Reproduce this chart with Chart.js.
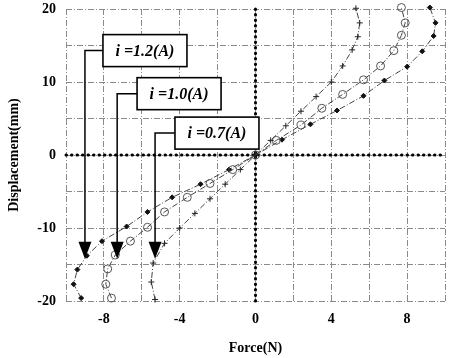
<!DOCTYPE html>
<html>
<head>
<meta charset="utf-8">
<script src="https://cdn.jsdelivr.net/npm/chart.js@4.4.1/dist/chart.umd.min.js"></script>
<style>
  html, body { margin: 0; padding: 0; background: #fff; }
  #wrap { width: 455px; height: 358px; }
</style>
</head>
<body>
<div id="wrap"><canvas id="chart" width="455" height="358"></canvas></div>
<script>
// Force (N) / displacement (mm), one pair of arrays per current
const forceI07 = [-5.3, -5.5, -5.4, -4.8, -4.0, -3.2, -2.4, -1.6, -0.8, 0, 0.8, 1.6, 2.4, 3.2, 4.0, 4.6, 5.1, 5.4, 5.5, 5.3];
const dispI07  = [-19.8, -17.4, -14.8, -12.1, -10.0, -8.0, -6.0, -4.0, -2.0, 0, 2.0, 4.0, 6.0, 8.0, 10.0, 12.2, 14.4, 16.2, 18.1, 20.1];

const forceI10 = [-7.6, -7.9, -7.8, -7.4, -6.6, -5.7, -4.8, -3.6, -2.4, -1.2, 0, 1.1, 2.4, 3.5, 4.6, 5.7, 6.6, 7.3, 7.7, 7.9, 7.7];
const dispI10  = [-19.6, -17.7, -15.6, -13.7, -11.8, -9.9, -7.8, -5.8, -3.9, -2.0, 0, 2.0, 4.1, 6.4, 8.3, 10.3, 12.2, 14.3, 16.4, 18.1, 20.2];

const forceI12 = [-9.2, -9.6, -9.4, -8.9, -8.1, -6.8, -5.7, -4.4, -2.9, -1.4, 0, 1.4, 2.9, 4.3, 5.7, 6.8, 8.0, 8.8, 9.4, 9.5, 9.2];
const dispI12  = [-19.6, -17.7, -15.7, -13.8, -11.8, -9.8, -7.8, -5.8, -4.0, -2.0, 0, 2.1, 4.2, 6.1, 8.1, 10.2, 12.1, 14.2, 16.3, 18.1, 20.2];

// Tick labels shown on the axes
const xTickLabels = [-8, -4, 0, 4, 8];
const yTickLabels = [-20, -10, 0, 10, 20];

// Callout labels: text, arrow tip (data coords), box anchor (data coords)
const calloutText  = ['i =1.2(A)', 'i =1.0(A)', 'i =0.7(A)'];
const calloutTipX  = [-9.0, -7.3, -5.3];
const calloutTipY  = [-14.2, -14.2, -14.2];
const calloutBoxX  = [-8.05, -6.25, -4.25];
const calloutBoxY  = [14.3, 8.4, 3.0];

const toPoints = (xs, ys) => xs.map((x, i) => ({ x: x, y: ys[i] }));

const serif = "'Liberation Serif', 'DejaVu Serif', serif";
const dashDot = [6, 2, 1, 2];

// dotted zero lines + arrow callouts
const overlayPlugin = {
    id: 'overlay',
    beforeDatasetsDraw(chart) {
        const { ctx, chartArea, scales } = chart;
        const x0 = scales.x.getPixelForValue(0);
        const y0 = scales.y.getPixelForValue(0);
        ctx.save();
        ctx.strokeStyle = '#000';
        ctx.lineWidth = 3;
        ctx.lineCap = 'round';
        ctx.setLineDash([0.5, 5]);
        ctx.beginPath();
        ctx.moveTo(chartArea.left, y0);
        ctx.lineTo(chartArea.right, y0);
        ctx.moveTo(x0, chartArea.top);
        ctx.lineTo(x0, chartArea.bottom);
        ctx.stroke();
        ctx.restore();
    },
    afterDatasetsDraw(chart) {
        const { ctx, scales } = chart;
        const boxW = 84, boxH = 32, headW = 13, headH = 17;
        ctx.save();
        calloutText.forEach((txt, i) => {
            const bx = scales.x.getPixelForValue(calloutBoxX[i]);
            const by = scales.y.getPixelForValue(calloutBoxY[i]);
            const tx = scales.x.getPixelForValue(calloutTipX[i]);
            const ty = scales.y.getPixelForValue(calloutTipY[i]);

            // connector
            ctx.strokeStyle = '#000';
            ctx.lineWidth = 1.5;
            ctx.setLineDash([]);
            ctx.beginPath();
            ctx.moveTo(bx, by);
            ctx.lineTo(tx, by);
            ctx.lineTo(tx, ty - headH + 2);
            ctx.stroke();

            // arrow head
            ctx.fillStyle = '#000';
            ctx.beginPath();
            ctx.moveTo(tx - headW / 2, ty - headH);
            ctx.lineTo(tx + headW / 2, ty - headH);
            ctx.lineTo(tx, ty);
            ctx.closePath();
            ctx.fill();

            // box
            ctx.fillStyle = '#fff';
            ctx.fillRect(bx, by - boxH / 2, boxW, boxH);
            ctx.lineWidth = 1.6;
            ctx.strokeRect(bx, by - boxH / 2, boxW, boxH);

            ctx.fillStyle = '#000';
            ctx.font = 'italic bold 16px ' + serif;
            ctx.textAlign = 'center';
            ctx.textBaseline = 'middle';
            ctx.fillText(txt, bx + boxW / 2, by + 1);
        });
        ctx.restore();
    }
};

const lineDataset = (label, xs, ys, style) => Object.assign({
    label: label,
    data: toPoints(xs, ys),
    showLine: true,
    borderWidth: 1,
    borderDash: dashDot,
    borderColor: '#444',
    pointBorderWidth: 1,
    clip: 6
}, style);

new Chart(document.getElementById('chart').getContext('2d'), {
    type: 'scatter',
    data: {
        datasets: [
            lineDataset('i=0.7(A)', forceI07, dispI07, {
                pointStyle: 'cross', pointRadius: 3, pointBorderColor: '#222'
            }),
            lineDataset('i=1.0(A)', forceI10, dispI10, {
                pointStyle: 'circle', pointRadius: 4, pointBackgroundColor: 'rgba(255,255,255,0)', pointBorderColor: '#555'
            }),
            lineDataset('i=1.2(A)', forceI12, dispI12, {
                pointStyle: 'rectRot', pointRadius: 2.5, pointBackgroundColor: '#111', pointBorderColor: '#111'
            })
        ]
    },
    options: {
        responsive: false,
        animation: false,
        layout: { padding: { left: 0, right: 8, top: 0, bottom: 0 } },
        plugins: {
            legend: { display: false },
            tooltip: { enabled: false }
        },
        scales: {
            x: {
                type: 'linear',
                min: -10,
                max: 10,
                afterFit: (scale) => { scale.height = 57; },
                grid: { color: '#8a8a8a', lineWidth: 1, drawTicks: false },
                border: { display: false, dash: dashDot },
                ticks: {
                    stepSize: 2,
                    padding: 10,
                    color: '#000',
                    font: { family: serif, size: 14, weight: 'bold' },
                    callback: (v) => xTickLabels.includes(v) ? String(v) : ''
                },
                title: {
                    display: true,
                    text: 'Force(N)',
                    color: '#000',
                    font: { family: serif, size: 14, weight: 'bold' },
                    padding: { top: 4, bottom: 1 }
                }
            },
            y: {
                type: 'linear',
                min: -20,
                max: 20,
                afterFit: (scale) => {
                    scale.width = 66;
                    scale.paddingTop = 9;
                },
                grid: { color: '#8a8a8a', lineWidth: 1, drawTicks: false },
                border: { display: false, dash: dashDot },
                ticks: {
                    stepSize: 5,
                    padding: 10,
                    color: '#000',
                    font: { family: serif, size: 14, weight: 'bold' },
                    callback: (v) => yTickLabels.includes(v) ? String(v) : ''
                },
                title: {
                    display: true,
                    text: 'Displacement(mm)',
                    color: '#000',
                    font: { family: serif, size: 14, weight: 'bold' },
                    padding: { top: 6, bottom: 4 }
                }
            }
        }
    },
    plugins: [overlayPlugin]
});
</script>
</body>
</html>
